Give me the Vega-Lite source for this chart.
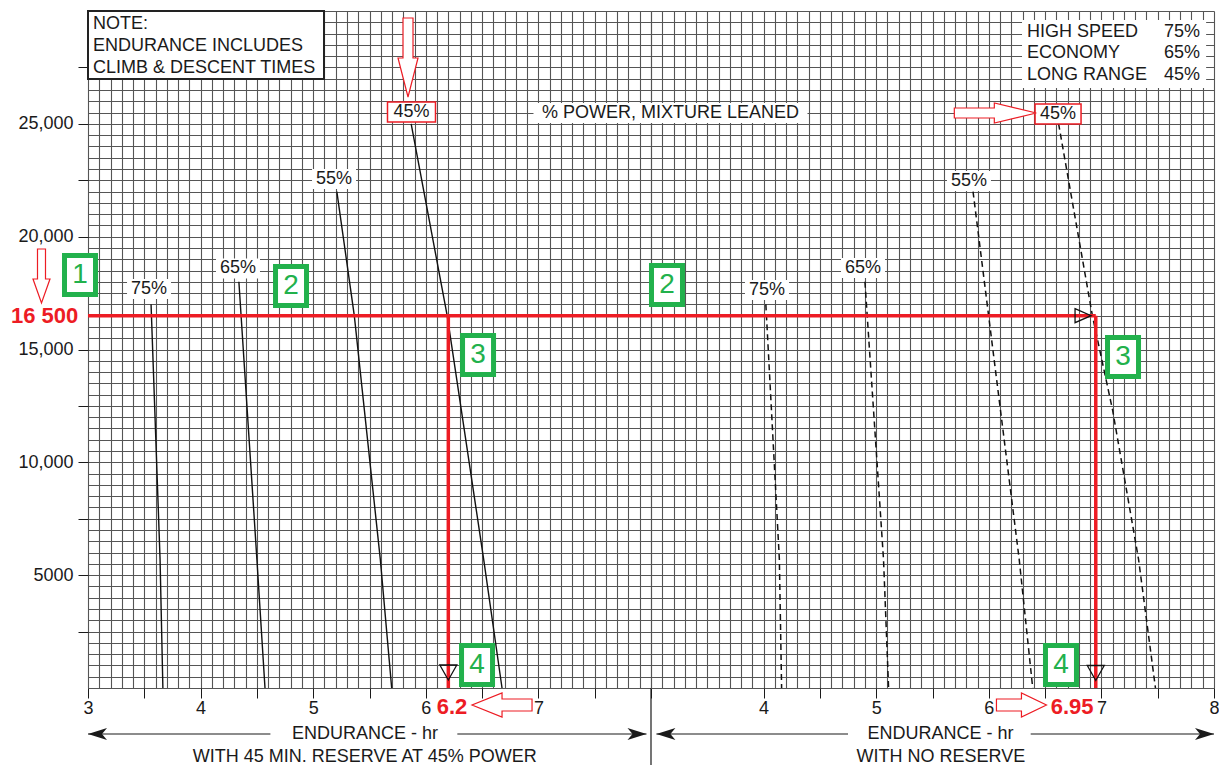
{
"$schema":"https://vega.github.io/schema/vega-lite/v6.json",
"background":"white",
"padding":{"left":10,"top":2,"right":0,"bottom":0},
"spacing":0,
"bounds":"flush",
"config":{"font":"Liberation Sans","view":{"stroke":null}},
"datasets":{
"curvesL":[{"power":"75%","hr":3.56,"alt":17000},{"power":"75%","hr":3.64,"alt":5700},{"power":"75%","hr":3.665,"alt":0},
{"power":"65%","hr":4.34,"alt":18000},{"power":"65%","hr":4.5,"alt":5700},{"power":"65%","hr":4.572,"alt":0},
{"power":"55%","hr":5.21,"alt":22000},{"power":"55%","hr":5.365,"alt":16500},{"power":"55%","hr":5.596,"alt":5700},{"power":"55%","hr":5.697,"alt":0},
{"power":"45%","hr":5.87,"alt":25000},{"power":"45%","hr":6.19,"alt":16500},{"power":"45%","hr":6.514,"alt":5700},{"power":"45%","hr":6.677,"alt":0}],
"curvesR":[{"power":"75%","hr":4.02,"alt":17000},{"power":"75%","hr":4.14,"alt":5700},{"power":"75%","hr":4.16,"alt":0},
{"power":"65%","hr":4.9,"alt":18000},{"power":"65%","hr":5.065,"alt":5700},{"power":"65%","hr":5.11,"alt":0},
{"power":"55%","hr":5.86,"alt":22000},{"power":"55%","hr":6.27,"alt":5700},{"power":"55%","hr":6.39,"alt":0},
{"power":"45%","hr":6.62,"alt":25000},{"power":"45%","hr":6.92,"alt":16500},{"power":"45%","hr":7.1,"alt":12300},{"power":"45%","hr":7.33,"alt":5700},{"power":"45%","hr":7.48,"alt":0}],
"labelsL":[{"text":"75%","hr":3.542,"alt":17680},{"text":"65%","hr":4.332,"alt":18590},{"text":"55%","hr":5.185,"alt":22555},{"text":"45%","hr":5.873,"alt":25524}],
"labelsR":[{"text":"75%","hr":4.03,"alt":17636},{"text":"65%","hr":4.883,"alt":18611},{"text":"55%","hr":5.824,"alt":22467},{"text":"45%","hr":6.615,"alt":25436}],
"noteL":[{"text":"NOTE:","hr":3.044,"alt":29446},{"text":"ENDURANCE INCLUDES","hr":3.044,"alt":28462},{"text":"CLIMB & DESCENT TIMES","hr":3.044,"alt":27496}],
"legendR":[{"name":"HIGH SPEED","pct":"75%","alt":29082},{"name":"ECONOMY","pct":"65%","alt":28125},{"name":"LONG RANGE","pct":"45%","alt":27164}],
"titleR":[{"text":"% POWER,  MIXTURE LEANED","hr":3.173,"alt":25480}],
"redL":[{"hr":3,"hr2":8,"alt":16500,"alt2":16500},{"hr":6.2,"hr2":6.2,"alt":16500,"alt2":0}],
"redR":[{"hr":3,"hr2":6.95,"alt":16500,"alt2":16500},{"hr":6.95,"hr2":6.95,"alt":16500,"alt2":0}],
"triL":[{"kind":"down","hr":6.2,"alt":687}],
"triR":[{"kind":"down","hr":6.95,"alt":665},{"kind":"right","hr":6.837,"alt":16500}],
"stepsL":[{"n":"1","hr":2.929,"alt":18301},{"n":"2","hr":4.803,"alt":17814},{"n":"3","hr":6.464,"alt":14756},{"n":"4","hr":6.455,"alt":1019}],
"stepsR":[{"n":"2","hr":3.142,"alt":17858},{"n":"3","hr":7.192,"alt":14668},{"n":"4","hr":6.641,"alt":1019}],
"redTextL":[{"text":"16 500","hr":2.614,"alt":16500},{"text":"6.2","hr":6.233,"alt":-820}],
"redTextR":[{"text":"6.95","hr":6.74,"alt":-820}],
"arrowsL":[{"kind":"down-small","hr":2.587,"alt":18124},{"kind":"down-big","hr":5.842,"alt":27917},{"kind":"left","hr":6.677,"alt":-753}],
"arrowsR":[{"kind":"right-big","hr":6.049,"alt":25480},{"kind":"right-small","hr":6.29,"alt":-753}],
"bottomL":[{"text":"ENDURANCE - hr","hr":5.46,"alt":-2038},{"text":"WITH 45 MIN. RESERVE AT 45% POWER","hr":5.458,"alt":-3045}],
"bottomR":[{"text":"ENDURANCE - hr","hr":5.57,"alt":-2038},{"text":"WITH NO RESERVE","hr":5.575,"alt":-3045}],
"rulesL":[{"hr":3.0,"hr2":4.62,"alt":-2038,"alt2":-2038},{"hr":6.28,"hr2":7.96,"alt":-2038,"alt2":-2038},{"hr":8,"hr2":8,"alt":0,"alt2":-3600}],
"rulesR":[{"hr":3.048,"hr2":4.75,"alt":-2038,"alt2":-2038},{"hr":6.372,"hr2":8.0,"alt":-2038,"alt2":-2038}],
"headsL":[{"dir":"left","hr":3.0,"alt":-2038},{"dir":"right","hr":7.96,"alt":-2038}],
"headsR":[{"dir":"left","hr":3.048,"alt":-2038},{"dir":"right","hr":8.0,"alt":-2038}]
},
"hconcat":[
{
"width":563,"height":677,
"layer":[
{"data":{"name":"curvesL"},
 "mark":{"type":"line","color":"#111111","strokeWidth":1.4},
 "encoding":{
  "x":{"field":"hr","type":"quantitative","scale":{"domain":[3,8],"nice":false,"zero":false},
   "axis":{"values":[3,3.1,3.2,3.3,3.4,3.5,3.6,3.7,3.8,3.9,4,4.1,4.2,4.3,4.4,4.5,4.6,4.7,4.8,4.9,5,5.1,5.2,5.3,5.4,5.5,5.6,5.7,5.8,5.9,6,6.1,6.2,6.3,6.4,6.5,6.6,6.7,6.8,6.9,7,7.1,7.2,7.3,7.4,7.5,7.6,7.7,7.8,7.9,8],
   "tickCount":1000,
   "grid":true,"gridColor":"#555555","gridWidth":1.1,"gridOpacity":1,"domain":false,"ticks":true,"tickSize":10,"tickWidth":1,"tickColor":"#1a1a1a",
   "tickOpacity":{"condition":{"test":"abs(datum.value*2-round(datum.value*2))<0.01","value":1},"value":0},
   "labelExpr":"abs(datum.value-round(datum.value))<0.01 && datum.value<7.5 ? format(round(datum.value),'d') : ''",
   "labelFontSize":18,"labelColor":"#1a1a1a","labelPadding":1,"labelFlush":false,"labelOverlap":false,"labelBound":false,"title":null}},
  "y":{"field":"alt","type":"quantitative","scale":{"domain":[0,30000],"nice":false,"zero":false},
   "axis":{"values":[0,500,1000,1500,2000,2500,3000,3500,4000,4500,5000,5500,6000,6500,7000,7500,8000,8500,9000,9500,10000,10500,11000,11500,12000,12500,13000,13500,14000,14500,15000,15500,16000,16500,17000,17500,18000,18500,19000,19500,20000,20500,21000,21500,22000,22500,23000,23500,24000,24500,25000,25500,26000,26500,27000,27500,28000,28500,29000,29500,30000],
   "tickCount":1000,
   "grid":true,"gridColor":"#555555","gridWidth":1.1,"gridOpacity":1,"domain":false,"tickSize":10,"tickWidth":1,"tickColor":"#1a1a1a",
   "tickOpacity":{"condition":{"test":"datum.value%2500==0 && datum.value>0 && datum.value<30000","value":1},"value":0},
   "labelExpr":"datum.value==5000 ? '5000' : ((datum.value%5000==0 && datum.value>0 && datum.value<30000) ? format(datum.value, ',') : '')",
   "labelFontSize":18,"labelColor":"#1a1a1a","labelPadding":5,"labelOverlap":false,"labelFlush":false,"labelBound":false,"title":null}},
  "detail":{"field":"power","type":"nominal"},
  "order":{"field":"alt","type":"quantitative","sort":"descending"}
 }},
{"data":{"values":[{}]},
 "mark":{"type":"rect","fill":"white","stroke":"#222222","strokeWidth":2},
 "encoding":{"x":{"datum":3,"type":"quantitative"},"x2":{"datum":5.096},"y":{"datum":30000,"type":"quantitative"},"y2":{"datum":26986}}},
{"data":{"name":"noteL"},
 "mark":{"type":"text","align":"left","baseline":"middle","fontSize":18,"color":"#1a1a1a"},
 "encoding":{"x":{"field":"hr","type":"quantitative"},"y":{"field":"alt","type":"quantitative"},"text":{"field":"text"}}},
{"data":{"name":"labelsL"},"transform":[{"filter":"datum.text != '45%'"}],
 "mark":{"type":"point","shape":"M-22,-10L22,-10L22,10L-22,10Z","size":4,"filled":true,"fill":"white","strokeWidth":0,"opacity":1},
 "encoding":{"x":{"field":"hr","type":"quantitative"},"y":{"field":"alt","type":"quantitative"}}},
{"data":{"name":"labelsL"},"transform":[{"filter":"datum.text == '45%'"}],
 "mark":{"type":"point","shape":"M-24,-10L24,-10L24,10L-24,10Z","size":4,"filled":true,"fill":"white","stroke":"#ed1c24","strokeWidth":1.5,"opacity":1},
 "encoding":{"x":{"field":"hr","type":"quantitative"},"y":{"field":"alt","type":"quantitative"}}},
{"data":{"name":"labelsL"},
 "mark":{"type":"text","align":"center","baseline":"middle","fontSize":18,"color":"#1a1a1a"},
 "encoding":{"x":{"field":"hr","type":"quantitative"},"y":{"field":"alt","type":"quantitative"},"text":{"field":"text"}}},
{"data":{"name":"redL"},
 "mark":{"type":"rule","color":"#ed1c24","strokeWidth":3.5},
 "encoding":{"x":{"field":"hr","type":"quantitative"},"x2":{"field":"hr2"},"y":{"field":"alt","type":"quantitative"},"y2":{"field":"alt2"}}},
{"data":{"name":"triL"},
 "mark":{"type":"point","shape":"M-8.5,-7.5L8.5,-7.5L0,7.5Z","size":4,"filled":false,"color":"#111111","strokeWidth":1.3,"opacity":1},
 "encoding":{"x":{"field":"hr","type":"quantitative"},"y":{"field":"alt","type":"quantitative"}}},
{"data":{"name":"stepsL"},
 "mark":{"type":"point","shape":"M-15.5,-19.5L15.5,-19.5L15.5,19.5L-15.5,19.5Z","size":4,"filled":true,"fill":"white","stroke":"#22b14c","strokeWidth":5,"opacity":1},
 "encoding":{"x":{"field":"hr","type":"quantitative"},"y":{"field":"alt","type":"quantitative"}}},
{"data":{"name":"stepsL"},
 "mark":{"type":"text","align":"center","baseline":"middle","fontSize":28,"color":"#22b14c"},
 "encoding":{"x":{"field":"hr","type":"quantitative"},"y":{"field":"alt","type":"quantitative"},"text":{"field":"n"}}},
{"data":{"name":"redTextL"},
 "mark":{"type":"text","align":"center","baseline":"middle","fontSize":22,"fontWeight":"bold","color":"#ed1c24"},
 "encoding":{"x":{"field":"hr","type":"quantitative"},"y":{"field":"alt","type":"quantitative"},"text":{"field":"text"}}},
{"data":{"name":"arrowsL"},"transform":[{"filter":"datum.kind == 'down-small'"}],
 "mark":{"type":"point","shape":"M-4,-30L4,-30L4,0L8.5,0L0,24L-8.5,0L-4,0Z","size":4,"filled":true,"fill":"white","stroke":"#ed1c24","strokeWidth":1.2,"opacity":1},
 "encoding":{"x":{"field":"hr","type":"quantitative"},"y":{"field":"alt","type":"quantitative"}}},
{"data":{"name":"arrowsL"},"transform":[{"filter":"datum.kind == 'down-big'"}],
 "mark":{"type":"point","shape":"M-5,-40L5,-40L5,0L10,0L0,39L-10,0L-5,0Z","size":4,"filled":true,"fill":"white","stroke":"#ed1c24","strokeWidth":1.2,"opacity":1},
 "encoding":{"x":{"field":"hr","type":"quantitative"},"y":{"field":"alt","type":"quantitative"}}},
{"data":{"name":"arrowsL"},"transform":[{"filter":"datum.kind == 'left'"}],
 "mark":{"type":"point","shape":"M30,-6L0,-6L0,-12L-30,0L0,12L0,6L30,6Z","size":4,"filled":true,"fill":"white","stroke":"#ed1c24","strokeWidth":1.2,"opacity":1},
 "encoding":{"x":{"field":"hr","type":"quantitative"},"y":{"field":"alt","type":"quantitative"}}},
{"data":{"name":"bottomL"},
 "mark":{"type":"text","align":"center","baseline":"middle","fontSize":18,"color":"#1a1a1a"},
 "encoding":{"x":{"field":"hr","type":"quantitative"},"y":{"field":"alt","type":"quantitative"},"text":{"field":"text"}}},
{"data":{"name":"rulesL"},
 "mark":{"type":"rule","color":"#1a1a1a","strokeWidth":1.2},
 "encoding":{"x":{"field":"hr","type":"quantitative"},"x2":{"field":"hr2"},"y":{"field":"alt","type":"quantitative"},"y2":{"field":"alt2"}}},
{"data":{"name":"headsL"},"transform":[{"filter":"datum.dir == 'left'"}],
 "mark":{"type":"point","shape":"M0,0L19,-6L14,0L19,6Z","size":4,"filled":true,"color":"#1a1a1a","opacity":1},
 "encoding":{"x":{"field":"hr","type":"quantitative"},"y":{"field":"alt","type":"quantitative"}}},
{"data":{"name":"headsL"},"transform":[{"filter":"datum.dir == 'right'"}],
 "mark":{"type":"point","shape":"M0,0L-19,-6L-14,0L-19,6Z","size":4,"filled":true,"color":"#1a1a1a","opacity":1},
 "encoding":{"x":{"field":"hr","type":"quantitative"},"y":{"field":"alt","type":"quantitative"}}}
]
},
{
"width":563,"height":677,
"layer":[
{"data":{"name":"curvesR"},
 "mark":{"type":"line","color":"#111111","strokeWidth":1.5,"strokeDash":[6,4]},
 "encoding":{
  "x":{"field":"hr","type":"quantitative","scale":{"domain":[3,8],"nice":false,"zero":false},
   "axis":{"values":[3,3.1,3.2,3.3,3.4,3.5,3.6,3.7,3.8,3.9,4,4.1,4.2,4.3,4.4,4.5,4.6,4.7,4.8,4.9,5,5.1,5.2,5.3,5.4,5.5,5.6,5.7,5.8,5.9,6,6.1,6.2,6.3,6.4,6.5,6.6,6.7,6.8,6.9,7,7.1,7.2,7.3,7.4,7.5,7.6,7.7,7.8,7.9,8],
   "tickCount":1000,
   "grid":true,"gridColor":"#555555","gridWidth":1.1,"gridOpacity":1,"domain":false,"ticks":true,"tickSize":10,"tickWidth":1,"tickColor":"#1a1a1a",
   "tickOpacity":{"condition":{"test":"abs(datum.value*2-round(datum.value*2))<0.01 && datum.value>3.7","value":1},"value":0},
   "labelExpr":"abs(datum.value-round(datum.value))<0.01 && datum.value>3.5 ? format(round(datum.value),'d') : ''",
   "labelFontSize":18,"labelColor":"#1a1a1a","labelPadding":1,"labelFlush":false,"labelOverlap":false,"labelBound":false,"title":null}},
  "y":{"field":"alt","type":"quantitative","scale":{"domain":[0,30000],"nice":false,"zero":false},
   "axis":{"values":[0,500,1000,1500,2000,2500,3000,3500,4000,4500,5000,5500,6000,6500,7000,7500,8000,8500,9000,9500,10000,10500,11000,11500,12000,12500,13000,13500,14000,14500,15000,15500,16000,16500,17000,17500,18000,18500,19000,19500,20000,20500,21000,21500,22000,22500,23000,23500,24000,24500,25000,25500,26000,26500,27000,27500,28000,28500,29000,29500,30000],
   "tickCount":1000,
   "grid":true,"gridColor":"#555555","gridWidth":1.1,"gridOpacity":1,"domain":false,"ticks":false,"labels":false,"title":null}},
  "detail":{"field":"power","type":"nominal"},
  "order":{"field":"alt","type":"quantitative","sort":"descending"}
 }},
{"data":{"values":[{}]},
 "mark":{"type":"rect","fill":"white","strokeWidth":0},
 "encoding":{"x":{"datum":6.295,"type":"quantitative"},"x2":{"datum":7.93},"y":{"datum":29601,"type":"quantitative"},"y2":{"datum":26587}}},
{"data":{"name":"legendR"},
 "mark":{"type":"text","align":"left","baseline":"middle","fontSize":18,"color":"#1a1a1a"},
 "encoding":{"x":{"datum":6.339,"type":"quantitative"},"y":{"field":"alt","type":"quantitative"},"text":{"field":"name"}}},
{"data":{"name":"legendR"},
 "mark":{"type":"text","align":"right","baseline":"middle","fontSize":18,"color":"#1a1a1a"},
 "encoding":{"x":{"datum":7.876,"type":"quantitative"},"y":{"field":"alt","type":"quantitative"},"text":{"field":"pct"}}},
{"data":{"name":"titleR"},
 "mark":{"type":"point","shape":"M-137,-10L137,-10L137,10L-137,10Z","size":4,"filled":true,"fill":"white","strokeWidth":0,"opacity":1},
 "encoding":{"x":{"field":"hr","type":"quantitative"},"y":{"field":"alt","type":"quantitative"}}},
{"data":{"name":"titleR"},
 "mark":{"type":"text","align":"center","baseline":"middle","fontSize":18,"color":"#1a1a1a"},
 "encoding":{"x":{"field":"hr","type":"quantitative"},"y":{"field":"alt","type":"quantitative"},"text":{"field":"text"}}},
{"data":{"name":"labelsR"},"transform":[{"filter":"datum.text != '45%'"}],
 "mark":{"type":"point","shape":"M-22,-10L22,-10L22,10L-22,10Z","size":4,"filled":true,"fill":"white","strokeWidth":0,"opacity":1},
 "encoding":{"x":{"field":"hr","type":"quantitative"},"y":{"field":"alt","type":"quantitative"}}},
{"data":{"name":"labelsR"},"transform":[{"filter":"datum.text == '45%'"}],
 "mark":{"type":"point","shape":"M-23,-10L23,-10L23,10L-23,10Z","size":4,"filled":true,"fill":"white","stroke":"#ed1c24","strokeWidth":1.5,"opacity":1},
 "encoding":{"x":{"field":"hr","type":"quantitative"},"y":{"field":"alt","type":"quantitative"}}},
{"data":{"name":"labelsR"},
 "mark":{"type":"text","align":"center","baseline":"middle","fontSize":18,"color":"#1a1a1a"},
 "encoding":{"x":{"field":"hr","type":"quantitative"},"y":{"field":"alt","type":"quantitative"},"text":{"field":"text"}}},
{"data":{"name":"redR"},
 "mark":{"type":"rule","color":"#ed1c24","strokeWidth":3.5},
 "encoding":{"x":{"field":"hr","type":"quantitative"},"x2":{"field":"hr2"},"y":{"field":"alt","type":"quantitative"},"y2":{"field":"alt2"}}},
{"data":{"name":"triR"},"transform":[{"filter":"datum.kind == 'down'"}],
 "mark":{"type":"point","shape":"M-8.5,-7.5L8.5,-7.5L0,7.5Z","size":4,"filled":false,"color":"#111111","strokeWidth":1.3,"opacity":1},
 "encoding":{"x":{"field":"hr","type":"quantitative"},"y":{"field":"alt","type":"quantitative"}}},
{"data":{"name":"triR"},"transform":[{"filter":"datum.kind == 'right'"}],
 "mark":{"type":"point","shape":"M-8,-7L8,0L-8,7Z","size":4,"filled":false,"color":"#111111","strokeWidth":1.3,"opacity":1},
 "encoding":{"x":{"field":"hr","type":"quantitative"},"y":{"field":"alt","type":"quantitative"}}},
{"data":{"name":"stepsR"},
 "mark":{"type":"point","shape":"M-15.5,-19.5L15.5,-19.5L15.5,19.5L-15.5,19.5Z","size":4,"filled":true,"fill":"white","stroke":"#22b14c","strokeWidth":5,"opacity":1},
 "encoding":{"x":{"field":"hr","type":"quantitative"},"y":{"field":"alt","type":"quantitative"}}},
{"data":{"name":"stepsR"},
 "mark":{"type":"text","align":"center","baseline":"middle","fontSize":28,"color":"#22b14c"},
 "encoding":{"x":{"field":"hr","type":"quantitative"},"y":{"field":"alt","type":"quantitative"},"text":{"field":"n"}}},
{"data":{"name":"redTextR"},
 "mark":{"type":"text","align":"center","baseline":"middle","fontSize":22,"fontWeight":"bold","color":"#ed1c24"},
 "encoding":{"x":{"field":"hr","type":"quantitative"},"y":{"field":"alt","type":"quantitative"},"text":{"field":"text"}}},
{"data":{"name":"arrowsR"},"transform":[{"filter":"datum.kind == 'right-big'"}],
 "mark":{"type":"point","shape":"M-40,-5L0,-5L0,-10L42,0L0,10L0,5L-40,5Z","size":4,"filled":true,"fill":"white","stroke":"#ed1c24","strokeWidth":1.2,"opacity":1},
 "encoding":{"x":{"field":"hr","type":"quantitative"},"y":{"field":"alt","type":"quantitative"}}},
{"data":{"name":"arrowsR"},"transform":[{"filter":"datum.kind == 'right-small'"}],
 "mark":{"type":"point","shape":"M-25,-6L0,-6L0,-12L25,0L0,12L0,6L-25,6Z","size":4,"filled":true,"fill":"white","stroke":"#ed1c24","strokeWidth":1.2,"opacity":1},
 "encoding":{"x":{"field":"hr","type":"quantitative"},"y":{"field":"alt","type":"quantitative"}}},
{"data":{"name":"bottomR"},
 "mark":{"type":"text","align":"center","baseline":"middle","fontSize":18,"color":"#1a1a1a"},
 "encoding":{"x":{"field":"hr","type":"quantitative"},"y":{"field":"alt","type":"quantitative"},"text":{"field":"text"}}},
{"data":{"name":"rulesR"},
 "mark":{"type":"rule","color":"#1a1a1a","strokeWidth":1.2},
 "encoding":{"x":{"field":"hr","type":"quantitative"},"x2":{"field":"hr2"},"y":{"field":"alt","type":"quantitative"},"y2":{"field":"alt2"}}},
{"data":{"name":"headsR"},"transform":[{"filter":"datum.dir == 'left'"}],
 "mark":{"type":"point","shape":"M0,0L19,-6L14,0L19,6Z","size":4,"filled":true,"color":"#1a1a1a","opacity":1},
 "encoding":{"x":{"field":"hr","type":"quantitative"},"y":{"field":"alt","type":"quantitative"}}},
{"data":{"name":"headsR"},"transform":[{"filter":"datum.dir == 'right'"}],
 "mark":{"type":"point","shape":"M0,0L-19,-6L-14,0L-19,6Z","size":4,"filled":true,"color":"#1a1a1a","opacity":1},
 "encoding":{"x":{"field":"hr","type":"quantitative"},"y":{"field":"alt","type":"quantitative"}}}
]
}
]
}
